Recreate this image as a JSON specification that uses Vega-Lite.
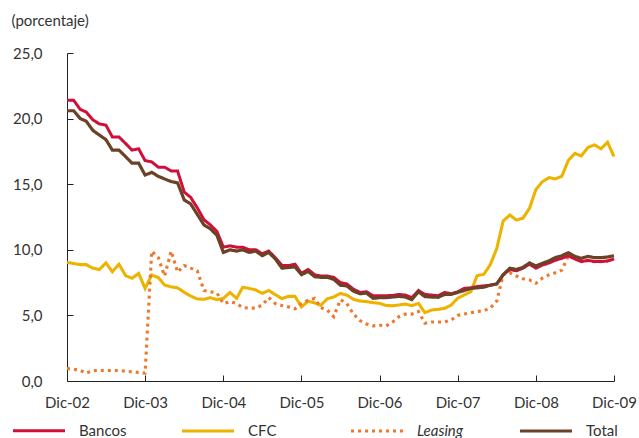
{
  "$schema": "https://vega.github.io/schema/vega-lite/v6.json",
  "width": 547,
  "height": 328,
  "autosize": {"type": "none"},
  "padding": {"left": 67, "top": 53, "right": 25, "bottom": 57},
  "background": "white",
  "config": {
    "font": "Lato",
    "view": {"stroke": null},
    "axis": {"grid": false, "domainColor": "#222", "tickColor": "#222", "labelColor": "#333", "labelFont": "Lato", "labelFontSize": 15, "titleFont": "Lato"}
  },
  "data": {"values": [
{"fecha":"2002-12-01","Bancos":21.4,"Total":20.6,"CFC":9.05,"Leasing":0.95},
{"fecha":"2003-01-01","Bancos":21.4,"Total":20.6,"CFC":8.95,"Leasing":0.9},
{"fecha":"2003-02-01","Bancos":20.7,"Total":20.0,"CFC":8.87,"Leasing":0.8},
{"fecha":"2003-03-01","Bancos":20.5,"Total":19.8,"CFC":8.87,"Leasing":0.6},
{"fecha":"2003-04-01","Bancos":19.9,"Total":19.1,"CFC":8.6,"Leasing":0.8},
{"fecha":"2003-05-01","Bancos":19.6,"Total":18.75,"CFC":8.5,"Leasing":0.8},
{"fecha":"2003-06-01","Bancos":19.5,"Total":18.4,"CFC":9.0,"Leasing":0.8},
{"fecha":"2003-07-01","Bancos":18.6,"Total":17.6,"CFC":8.33,"Leasing":0.8},
{"fecha":"2003-08-01","Bancos":18.6,"Total":17.6,"CFC":8.9,"Leasing":0.8},
{"fecha":"2003-09-01","Bancos":18.1,"Total":17.1,"CFC":8.03,"Leasing":0.75},
{"fecha":"2003-10-01","Bancos":17.6,"Total":16.6,"CFC":7.83,"Leasing":0.7},
{"fecha":"2003-11-01","Bancos":17.7,"Total":16.6,"CFC":8.2,"Leasing":0.65},
{"fecha":"2003-12-01","Bancos":16.8,"Total":15.7,"CFC":7.06,"Leasing":0.6},
{"fecha":"2004-01-01","Bancos":16.7,"Total":15.9,"CFC":8.08,"Leasing":9.9},
{"fecha":"2004-02-01","Bancos":16.3,"Total":15.6,"CFC":7.88,"Leasing":9.4},
{"fecha":"2004-03-01","Bancos":16.3,"Total":15.4,"CFC":7.32,"Leasing":8.0},
{"fecha":"2004-04-01","Bancos":16.0,"Total":15.2,"CFC":7.17,"Leasing":9.9},
{"fecha":"2004-05-01","Bancos":16.0,"Total":15.1,"CFC":7.1,"Leasing":8.3},
{"fecha":"2004-06-01","Bancos":14.4,"Total":13.8,"CFC":6.76,"Leasing":8.8},
{"fecha":"2004-07-01","Bancos":14.0,"Total":13.5,"CFC":6.48,"Leasing":8.6},
{"fecha":"2004-08-01","Bancos":13.2,"Total":12.7,"CFC":6.25,"Leasing":8.4},
{"fecha":"2004-09-01","Bancos":12.3,"Total":11.9,"CFC":6.23,"Leasing":6.9},
{"fecha":"2004-10-01","Bancos":11.9,"Total":11.6,"CFC":6.35,"Leasing":6.8},
{"fecha":"2004-11-01","Bancos":11.4,"Total":11.1,"CFC":6.2,"Leasing":6.7},
{"fecha":"2004-12-01","Bancos":10.2,"Total":9.8,"CFC":6.3,"Leasing":5.9},
{"fecha":"2005-01-01","Bancos":10.3,"Total":10.0,"CFC":6.75,"Leasing":6.05},
{"fecha":"2005-02-01","Bancos":10.2,"Total":9.9,"CFC":6.3,"Leasing":5.9},
{"fecha":"2005-03-01","Bancos":10.2,"Total":10.0,"CFC":7.14,"Leasing":5.6},
{"fecha":"2005-04-01","Bancos":10.0,"Total":9.8,"CFC":7.06,"Leasing":5.55},
{"fecha":"2005-05-01","Bancos":10.0,"Total":9.9,"CFC":6.94,"Leasing":5.55},
{"fecha":"2005-06-01","Bancos":9.7,"Total":9.55,"CFC":6.68,"Leasing":5.8},
{"fecha":"2005-07-01","Bancos":9.9,"Total":9.8,"CFC":6.9,"Leasing":6.35},
{"fecha":"2005-08-01","Bancos":9.4,"Total":9.3,"CFC":6.58,"Leasing":5.9},
{"fecha":"2005-09-01","Bancos":8.8,"Total":8.6,"CFC":6.28,"Leasing":5.75},
{"fecha":"2005-10-01","Bancos":8.8,"Total":8.65,"CFC":6.45,"Leasing":5.65},
{"fecha":"2005-11-01","Bancos":8.9,"Total":8.7,"CFC":6.45,"Leasing":5.5},
{"fecha":"2005-12-01","Bancos":8.2,"Total":8.1,"CFC":5.65,"Leasing":5.9},
{"fecha":"2006-01-01","Bancos":8.5,"Total":8.35,"CFC":6.08,"Leasing":6.15},
{"fecha":"2006-02-01","Bancos":8.1,"Total":7.95,"CFC":5.95,"Leasing":6.3},
{"fecha":"2006-03-01","Bancos":8.0,"Total":7.9,"CFC":5.77,"Leasing":5.6},
{"fecha":"2006-04-01","Bancos":8.0,"Total":7.9,"CFC":6.27,"Leasing":5.4},
{"fecha":"2006-05-01","Bancos":7.9,"Total":7.75,"CFC":6.4,"Leasing":4.9},
{"fecha":"2006-06-01","Bancos":7.5,"Total":7.3,"CFC":6.68,"Leasing":6.2},
{"fecha":"2006-07-01","Bancos":7.4,"Total":7.25,"CFC":6.55,"Leasing":5.9},
{"fecha":"2006-08-01","Bancos":7.0,"Total":6.85,"CFC":6.23,"Leasing":5.1},
{"fecha":"2006-09-01","Bancos":6.75,"Total":6.65,"CFC":6.1,"Leasing":4.6},
{"fecha":"2006-10-01","Bancos":6.8,"Total":6.7,"CFC":6.05,"Leasing":4.35},
{"fecha":"2006-11-01","Bancos":6.5,"Total":6.3,"CFC":5.97,"Leasing":4.2},
{"fecha":"2006-12-01","Bancos":6.5,"Total":6.35,"CFC":5.92,"Leasing":4.25},
{"fecha":"2007-01-01","Bancos":6.5,"Total":6.35,"CFC":5.75,"Leasing":4.2},
{"fecha":"2007-02-01","Bancos":6.52,"Total":6.4,"CFC":5.74,"Leasing":4.5},
{"fecha":"2007-03-01","Bancos":6.6,"Total":6.45,"CFC":5.79,"Leasing":4.9},
{"fecha":"2007-04-01","Bancos":6.55,"Total":6.4,"CFC":5.87,"Leasing":5.1},
{"fecha":"2007-05-01","Bancos":6.35,"Total":6.2,"CFC":5.74,"Leasing":5.1},
{"fecha":"2007-06-01","Bancos":6.9,"Total":6.8,"CFC":5.92,"Leasing":5.3},
{"fecha":"2007-07-01","Bancos":6.6,"Total":6.43,"CFC":5.21,"Leasing":4.4},
{"fecha":"2007-08-01","Bancos":6.55,"Total":6.4,"CFC":5.41,"Leasing":4.5},
{"fecha":"2007-09-01","Bancos":6.5,"Total":6.38,"CFC":5.46,"Leasing":4.5},
{"fecha":"2007-10-01","Bancos":6.75,"Total":6.6,"CFC":5.54,"Leasing":4.5},
{"fecha":"2007-11-01","Bancos":6.65,"Total":6.6,"CFC":5.79,"Leasing":4.65},
{"fecha":"2007-12-01","Bancos":6.8,"Total":6.75,"CFC":6.3,"Leasing":5.0},
{"fecha":"2008-01-01","Bancos":7.06,"Total":6.9,"CFC":6.56,"Leasing":5.1},
{"fecha":"2008-02-01","Bancos":7.1,"Total":7.06,"CFC":6.81,"Leasing":5.2},
{"fecha":"2008-03-01","Bancos":7.2,"Total":7.1,"CFC":8.03,"Leasing":5.3},
{"fecha":"2008-04-01","Bancos":7.25,"Total":7.15,"CFC":8.13,"Leasing":5.35},
{"fecha":"2008-05-01","Bancos":7.3,"Total":7.3,"CFC":8.84,"Leasing":5.55},
{"fecha":"2008-06-01","Bancos":7.4,"Total":7.4,"CFC":10.1,"Leasing":6.1},
{"fecha":"2008-07-01","Bancos":8.1,"Total":8.1,"CFC":12.2,"Leasing":8.1},
{"fecha":"2008-08-01","Bancos":8.5,"Total":8.6,"CFC":12.65,"Leasing":8.25},
{"fecha":"2008-09-01","Bancos":8.4,"Total":8.5,"CFC":12.27,"Leasing":8.0},
{"fecha":"2008-10-01","Bancos":8.6,"Total":8.66,"CFC":12.4,"Leasing":7.8},
{"fecha":"2008-11-01","Bancos":8.9,"Total":9.0,"CFC":13.16,"Leasing":7.7},
{"fecha":"2008-12-01","Bancos":8.6,"Total":8.77,"CFC":14.6,"Leasing":7.45},
{"fecha":"2009-01-01","Bancos":8.84,"Total":8.97,"CFC":15.2,"Leasing":7.85},
{"fecha":"2009-02-01","Bancos":9.0,"Total":9.17,"CFC":15.5,"Leasing":8.1},
{"fecha":"2009-03-01","Bancos":9.2,"Total":9.4,"CFC":15.4,"Leasing":8.25},
{"fecha":"2009-04-01","Bancos":9.35,"Total":9.55,"CFC":15.6,"Leasing":8.45},
{"fecha":"2009-05-01","Bancos":9.55,"Total":9.78,"CFC":16.8,"Leasing":9.5},
{"fecha":"2009-06-01","Bancos":9.3,"Total":9.5,"CFC":17.35,"Leasing":9.35},
{"fecha":"2009-07-01","Bancos":9.1,"Total":9.35,"CFC":17.15,"Leasing":9.2},
{"fecha":"2009-08-01","Bancos":9.2,"Total":9.5,"CFC":17.8,"Leasing":9.15},
{"fecha":"2009-09-01","Bancos":9.1,"Total":9.4,"CFC":18.0,"Leasing":9.1},
{"fecha":"2009-10-01","Bancos":9.1,"Total":9.4,"CFC":17.7,"Leasing":9.1},
{"fecha":"2009-11-01","Bancos":9.15,"Total":9.45,"CFC":18.2,"Leasing":9.15},
{"fecha":"2009-12-01","Bancos":9.3,"Total":9.55,"CFC":17.1,"Leasing":9.3}
  ]},
  "transform": [
    {"fold": ["CFC", "Leasing", "Bancos", "Total"], "as": ["serie", "valor"]}
  ],
  "mark": {"type": "line", "strokeCap": "butt", "strokeJoin": "miter"},
  "encoding": {
    "x": {
      "field": "fecha", "type": "temporal",
      "scale": {"type": "utc", "domain": [{"year": 2002, "month": 12, "date": 1, "utc": true}, {"year": 2009, "month": 12, "date": 1, "utc": true}]},
      "axis": {
        "title": null,
        "values": [
          {"year": 2002, "month": 12, "date": 1, "utc": true},
          {"year": 2003, "month": 12, "date": 1, "utc": true},
          {"year": 2004, "month": 12, "date": 1, "utc": true},
          {"year": 2005, "month": 12, "date": 1, "utc": true},
          {"year": 2006, "month": 12, "date": 1, "utc": true},
          {"year": 2007, "month": 12, "date": 1, "utc": true},
          {"year": 2008, "month": 12, "date": 1, "utc": true},
          {"year": 2009, "month": 12, "date": 1, "utc": true}
        ],
        "labelExpr": "'Dic-' + utcFormat(datum.value, '%y')",
        "tickSize": -6,
        "labelPadding": 20,
        "labelFlush": false,
        "labelOverlap": false
      }
    },
    "y": {
      "field": "valor", "type": "quantitative",
      "scale": {"domain": [0, 25], "nice": false, "zero": true},
      "axis": {
        "values": [0, 5, 10, 15, 20, 25],
        "labelExpr": "replace(format(datum.value, '.1f'), '.', ',')",
        "tickSize": -6,
        "labelPadding": 31,
        "title": "(porcentaje)",
        "titleAngle": 0,
        "titleAlign": "left",
        "titleBaseline": "middle",
        "titleX": -56,
        "titleY": -33,
        "titleFontSize": 15,
        "titleFontWeight": "normal",
        "titleColor": "#333"
      }
    },
    "color": {
      "field": "serie", "type": "nominal",
      "scale": {"domain": ["Bancos", "CFC", "Leasing", "Total"], "range": ["#d0103a", "#ecb400", "#ec7a2e", "#6b4226"]},
      "legend": {
        "title": null,
        "orient": "none",
        "legendX": -56,
        "legendY": 350,
        "direction": "horizontal",
        "columns": 4,
        "gridAlign": "all",
        "columnPadding": 48,
        "symbolType": "stroke",
        "symbolSize": 2704,
        "labelOffset": 12,
        "labelFontSize": 15,
        "labelFont": "Lato",
        "labelColor": "#333",
        "encode": {"labels": {"update": {"fontStyle": {"signal": "datum.label === 'Leasing' ? 'italic' : 'normal'"}}}}
      }
    },
    "strokeDash": {
      "field": "serie", "type": "nominal",
      "scale": {"domain": ["Bancos", "CFC", "Leasing", "Total"], "range": [[1, 0], [1, 0], [3, 4], [1, 0]]},
      "legend": null
    },
    "strokeWidth": {
      "field": "serie", "type": "nominal",
      "scale": {"domain": ["Bancos", "CFC", "Leasing", "Total"], "range": [3, 3.2, 3.2, 4]},
      "legend": null
    }
  }
}
